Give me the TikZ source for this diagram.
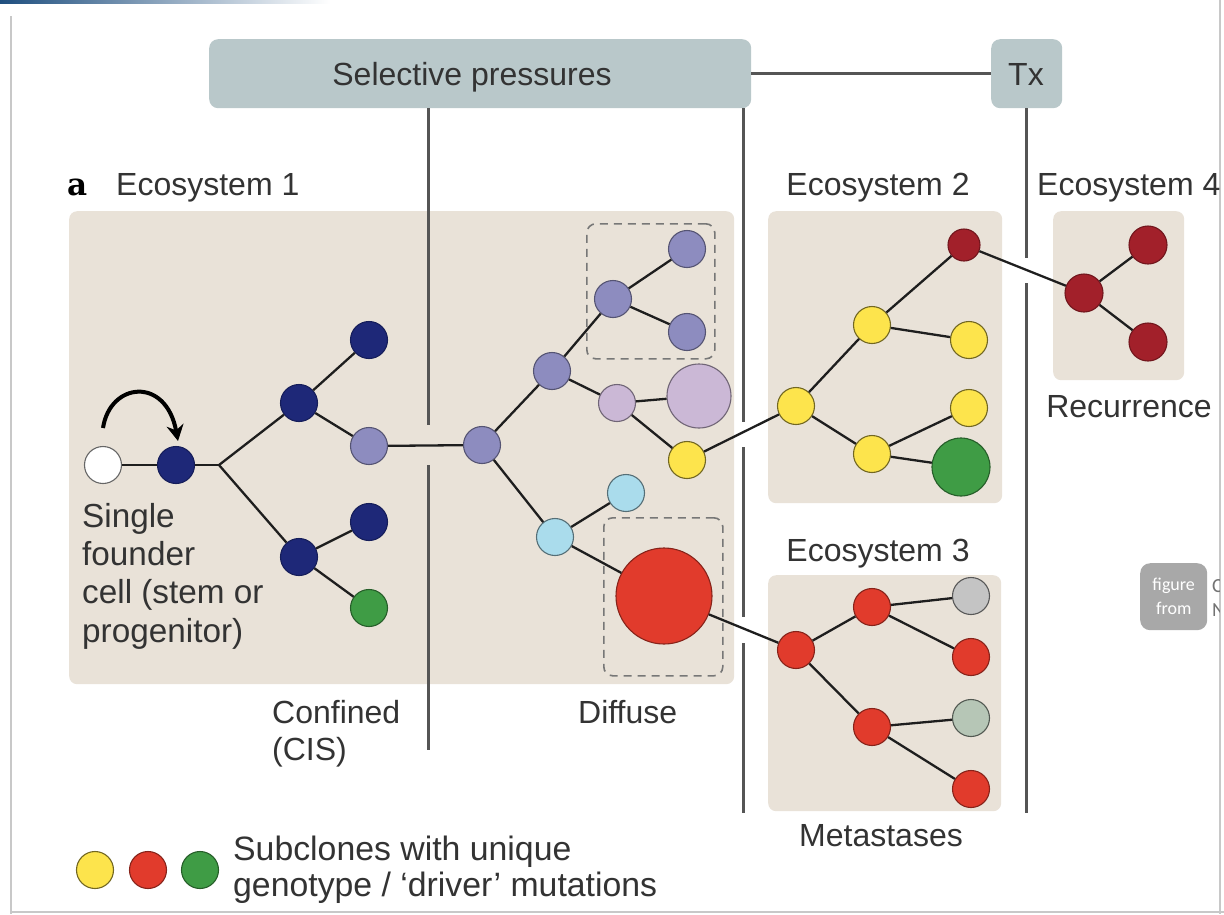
\documentclass[tikz,border=0pt]{standalone}
\usepackage{fontspec}
\setmainfont{Liberation Sans}
\newfontfamily\serifb{DejaVu Serif}
\newfontfamily\badgefont{Carlito}
\usetikzlibrary{arrows.meta}
\definecolor{cBeige}{HTML}{E9E2D8}
\definecolor{cPress}{HTML}{B9C8CA}
\definecolor{cNavy}{HTML}{1E2878}
\definecolor{cLav}{HTML}{8D8CBF}
\definecolor{cLilac}{HTML}{CBB8D6}
\definecolor{cYel}{HTML}{FDE44C}
\definecolor{cSky}{HTML}{AADCEC}
\definecolor{cRed}{HTML}{E13B2C}
\definecolor{cDRed}{HTML}{A2202A}
\definecolor{cGrn}{HTML}{3F9C45}
\definecolor{cGrayc}{HTML}{C4C4C4}
\definecolor{cSage}{HTML}{B6C6B6}
\definecolor{cEdge}{HTML}{1E1E1E}
\definecolor{cVline}{HTML}{555555}
\definecolor{cDash}{HTML}{777777}
\definecolor{cText}{HTML}{333333}
\definecolor{cFrame}{HTML}{C8C8C8}
\definecolor{cBadge}{HTML}{A8A8A8}
\definecolor{cTopbar}{HTML}{1F4F7F}
\begin{document}
\begin{tikzpicture}[x=1pt,y=-1pt,
  cell/.style={circle, inner sep=0pt, line width=1.1pt, minimum size=37pt},
  whitenode/.style={cell, fill=white, draw=black!60},
  navynode/.style={cell, fill=cNavy, draw=cNavy!75!black},
  lavnode/.style={cell, fill=cLav, draw=cLav!60!black},
  lilacnode/.style={cell, fill=cLilac, draw=cLilac!55!black},
  yelnode/.style={cell, fill=cYel, draw=cYel!45!black},
  skynode/.style={cell, fill=cSky, draw=cSky!50!black},
  rednode/.style={cell, fill=cRed, draw=cRed!60!black},
  drednode/.style={cell, fill=cDRed, draw=cDRed!70!black},
  grnnode/.style={cell, fill=cGrn, draw=cGrn!60!black},
  graynode/.style={cell, fill=cGrayc, draw=cGrayc!45!black},
  sagenode/.style={cell, fill=cSage, draw=cSage!45!black},
  edge/.style={line width=2.3pt, draw=cEdge},
  vline/.style={line width=3pt, draw=cVline},
  ecobox/.style={fill=cBeige, rounded corners=8pt, inner sep=0pt, anchor=north west},
  pbox/.style={fill=cPress, rounded corners=9pt, inner sep=0pt, anchor=north west},
  dbox/.style={draw=cDash, dash pattern=on 8pt off 6pt, line width=1.6pt, rounded corners=9pt, inner sep=0pt, anchor=north west},
  lbl/.style={font=\fontsize{32}{38}\selectfont, text=cText, inner sep=0pt},
  lblb/.style={font=\fontsize{33.3}{38}\selectfont, text=cText, inner sep=0pt},
]
\useasboundingbox (0,0) rectangle (1224,914);
\fill[white] (0,0) rectangle (1224,914);
% frame
\shade[left color=cTopbar, right color=white] (0,0) rectangle (330,3);
\draw[cFrame, line width=1.5pt] (11,16) -- (11,914);
\draw[cFrame, line width=1.5pt] (1220,0) -- (1220,914);
\draw[cFrame, line width=1.5pt] (11,912) -- (1224,912);

% boxes
\node[pbox, minimum width=542pt, minimum height=69pt] (sp) at (209,39) {};
\node[pbox, minimum width=71pt, minimum height=69pt] (tx) at (991,39) {};
\node[lbl, anchor=base] (sptext) at (472,85) {Selective pressures};
\node[lbl, anchor=base] (txtext) at (1026,85) {Tx};
\draw[line width=3pt, draw=cVline] (sp.east) -- (tx.west);

\node[ecobox, minimum width=665pt, minimum height=473pt] (eco1) at (69,211) {};
\node[ecobox, minimum width=234pt, minimum height=292pt] (eco2) at (768,211) {};
\node[ecobox, minimum width=233pt, minimum height=236pt] (eco3) at (768,575) {};
\node[ecobox, minimum width=131pt, minimum height=169pt] (eco4) at (1053,211) {};
\node[dbox, minimum width=128pt, minimum height=135pt] (dash1) at (586,223) {};
\node[dbox, minimum width=119pt, minimum height=158pt] (dash2) at (603,517) {};

% vertical lines
\coordinate (v1a) at (428,425);
\coordinate (v1b) at (428,465);
\coordinate (v1c) at (428,750);
\coordinate (v2a) at (743,422);
\coordinate (v2b) at (743,447);
\coordinate (v2c) at (743,617);
\coordinate (v2d) at (743,643);
\coordinate (v2e) at (743,813);
\coordinate (v3a) at (1026,258);
\coordinate (v3b) at (1026,283);
\coordinate (v3c) at (1026,813);
\draw[vline] (sp.south -| v1a) -- (v1a);
\draw[vline] (v1b) -- (v1c);
\draw[vline] (sp.south -| v2a) -- (v2a);
\draw[vline] (v2b) -- (v2c);
\draw[vline] (v2d) -- (v2e);
\draw[vline] (tx.south -| v3a) -- (v3a);
\draw[vline] (v3b) -- (v3c);

% labels
\node[anchor=base west, inner sep=0pt, font=\serifb\bfseries\fontsize{31}{38}\selectfont, text=black] (lbla) at (67,195) {a};
\node[lbl, anchor=base west] (e1) at (116,195) {Ecosystem 1};
\node[lbl, anchor=base] (e2) at (878,195) {Ecosystem 2};
\node[lbl, anchor=base west] (e4) at (1037,195) {Ecosystem 4};
\node[lbl, anchor=base] (e3) at (878,561) {Ecosystem 3};
\node[lbl, anchor=base] (rec) at (1129,417) {Recurrence};
\node[lblb, anchor=base west] (f1) at (82,527) {Single};
\node[lblb, anchor=base west] (f2) at (82,565) {founder};
\node[lblb, anchor=base west] (f3) at (82,603) {cell (stem or};
\node[lblb, anchor=base west] (f4) at (82,642) {progenitor)};
\node[lbl, anchor=base west] (conf1) at (272,723) {Confined};
\node[lbl, anchor=base west] (conf2) at (272,760) {(CIS)};
\node[lbl, anchor=base west] (diff) at (578,723) {Diffuse};
\node[lbl, anchor=base] (meta) at (881,846) {Metastases};
\node[lblb, anchor=base west, font=\fontsize{33.8}{38}\selectfont] (leg1) at (233,860) {Subclones with unique};
\node[lblb, anchor=base west, font=\fontsize{33.8}{38}\selectfont] (leg2) at (233,896) {genotype / ‘driver’ mutations};

% badge
\node[fill=cBadge, rounded corners=10pt, minimum width=67pt, minimum height=67pt, inner sep=0pt, anchor=north west] (badge) at (1140,563) {};
\node[font=\badgefont\fontsize{18}{24}\selectfont, text=white, align=center, inner sep=0pt] (badgetext) at (badge.center) {figure\\from};
\begin{scope}
\clip (1208,560) rectangle (1219,630);
\node[font=\badgefont\fontsize{20}{24}\selectfont, text=black!55, anchor=base west, inner sep=0pt] (cc) at (1212,592) {C};
\node[font=\badgefont\fontsize{20}{24}\selectfont, text=black!55, anchor=base west, inner sep=0pt] (nn) at (1212,616) {N};
\end{scope}

% Ecosystem 1 tree
\node[whitenode] (w) at (103,465) {};
\node[navynode] (n0) at (176,465) {};
\coordinate (b0) at (219,465);
\node[navynode] (n1) at (299,403) {};
\node[navynode] (n2) at (299,557) {};
\node[navynode] (n11) at (369,340) {};
\node[lavnode] (l12) at (369,446) {};
\node[navynode] (n21) at (369,522) {};
\node[grnnode] (g22) at (369,608) {};
\node[lavnode] (l2) at (482,445) {};
\node[lavnode] (l3) at (552,371) {};
\node[lavnode] (l4) at (613,299) {};
\node[lavnode] (l41) at (687,249) {};
\node[lavnode] (l42) at (687,332) {};
\node[lilacnode] (p1) at (617,403) {};
\node[lilacnode, minimum size=64pt] (pbig) at (699,396) {};
\node[yelnode] (y0) at (687,460) {};
\node[skynode] (s1) at (555,537) {};
\node[skynode] (s2) at (626,493) {};
\node[rednode, minimum size=96pt] (rbig) at (664,596) {};

% Ecosystem 2
\node[yelnode] (y1) at (796,406) {};
\node[yelnode] (y2) at (872,325) {};
\node[yelnode] (y3) at (872,454) {};
\node[drednode, minimum size=32pt] (d0) at (964,245) {};
\node[yelnode] (y21) at (969,340) {};
\node[yelnode] (y31) at (969,408) {};
\node[grnnode, minimum size=58pt] (gbig) at (961,467) {};

% Ecosystem 4
\node[drednode, minimum size=38pt] (d1) at (1084,293) {};
\node[drednode, minimum size=38pt] (d2) at (1148,245) {};
\node[drednode, minimum size=38pt] (d3) at (1148,342) {};

% Ecosystem 3
\node[rednode] (r1) at (796,650) {};
\node[rednode] (r2) at (872,607) {};
\node[rednode] (r3) at (872,727) {};
\node[graynode] (r21) at (971,596) {};
\node[rednode] (r22) at (971,657) {};
\node[sagenode] (r31) at (971,718) {};
\node[rednode] (r32) at (971,789) {};

% legend
\node[yelnode] (legy) at (95,870) {};
\node[rednode] (legr) at (148,870) {};
\node[grnnode] (legg) at (200,870) {};

% edges
\draw[edge] (w) -- (n0);
\draw[edge] (n0) -- (b0);
\draw[edge] (b0) -- (n1);
\draw[edge] (b0) -- (n2);
\draw[edge] (n1) -- (n11);
\draw[edge] (n1) -- (l12);
\draw[edge] (n2) -- (n21);
\draw[edge] (n2) -- (g22);
\draw[edge] (l12) -- (l2);
\draw[edge] (l2) -- (l3);
\draw[edge] (l2) -- (s1);
\draw[edge] (l3) -- (l4);
\draw[edge] (l3) -- (p1);
\draw[edge] (l4) -- (l41);
\draw[edge] (l4) -- (l42);
\draw[edge] (p1) -- (pbig);
\draw[edge] (p1) -- (y0);
\draw[edge] (y0) -- (y1);
\draw[edge] (s1) -- (s2);
\draw[edge] (s1) -- (rbig);
\draw[edge] (rbig) -- (r1);
\draw[edge] (y1) -- (y2);
\draw[edge] (y1) -- (y3);
\draw[edge] (y2) -- (d0);
\draw[edge] (y2) -- (y21);
\draw[edge] (y3) -- (y31);
\draw[edge] (y3) -- (gbig);
\draw[edge] (d0) -- (d1);
\draw[edge] (d1) -- (d2);
\draw[edge] (d1) -- (d3);
\draw[edge] (r1) -- (r2);
\draw[edge] (r1) -- (r3);
\draw[edge] (r2) -- (r21);
\draw[edge] (r2) -- (r22);
\draw[edge] (r3) -- (r31);
\draw[edge] (r3) -- (r32);

% self-renewal arrow
\coordinate (arS) at (103,428);
\coordinate (arE) at (178,441);
\draw[line width=4pt, black, -{Stealth[length=16pt,width=17pt]}] (arS) .. controls (110,382) and (166,376) .. (arE);
\end{tikzpicture}
\end{document}
